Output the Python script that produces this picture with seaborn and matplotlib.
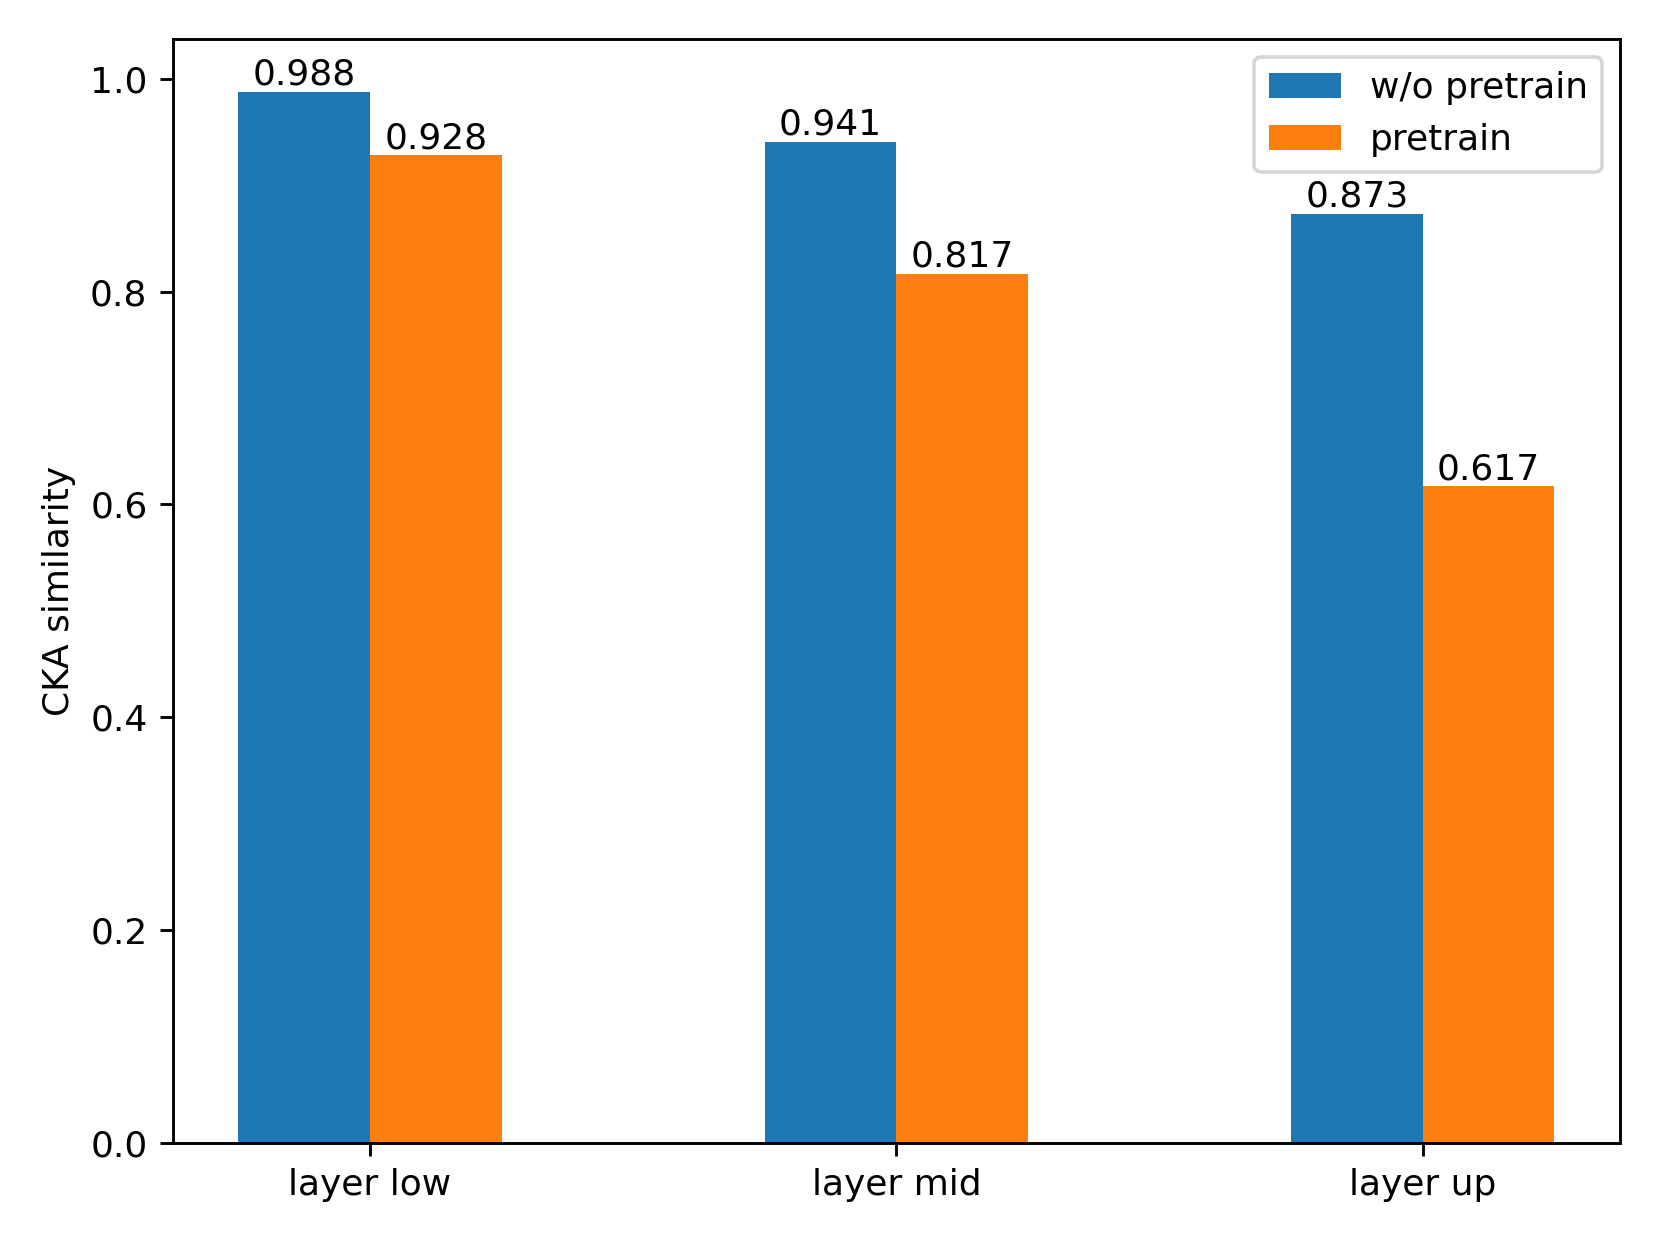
import pandas as pd
import matplotlib
matplotlib.use("Agg")
import matplotlib.pyplot as plt
import seaborn as sns

# dados do gráfico
camadas = ['layer low', 'layer mid', 'layer up']
grupos = ['w/o pretrain', 'pretrain']
sem_pretrain = [0.988, 0.941, 0.873]
com_pretrain = [0.928, 0.817, 0.617]

df = pd.DataFrame({
    'camada': camadas * 2,
    'grupo': [grupos[0]] * 3 + [grupos[1]] * 3,
    'cka': sem_pretrain + com_pretrain,
})

fig, ax = plt.subplots(figsize=(6.4, 4.8), dpi=259.375)
fig.subplots_adjust(left=0.104, right=0.976, top=0.9687, bottom=0.0819)

sns.barplot(data=df, x='camada', y='cka', hue='grupo', hue_order=grupos,
            order=camadas, palette=['#1f77b4', '#ff7f0e'], width=0.5,
            errorbar=None, saturation=1, ax=ax)

for c in ax.containers:
    ax.bar_label(c)

ax.set_xlim(-0.375, 2.375)
ax.set_ylim(0, max(sem_pretrain + com_pretrain) * 1.05)
ax.set_xlabel('')
ax.set_ylabel('CKA similarity')
sns.move_legend(ax, 'upper right', title=None)

fig.savefig('out.png', dpi=259.375)
